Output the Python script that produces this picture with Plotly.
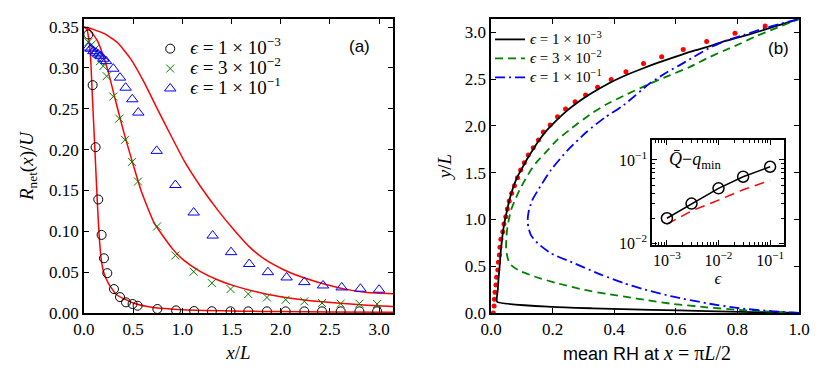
import plotly.graph_objects as go
import math

PI = math.pi

# ---------------- Panel (a) data ----------------
circ_x = [0.044, 0.088, 0.118, 0.145, 0.179, 0.203, 0.237, 0.305, 0.366, 0.427, 0.494, 0.545,
          0.746, 0.936, 1.12, 1.30, 1.49, 1.67, 1.86, 2.05, 2.24, 2.42, 2.61, 2.80, 2.98]
circ_y = [0.341, 0.279, 0.203, 0.139, 0.0956, 0.067, 0.0488, 0.0293, 0.0195, 0.0130, 0.011, 0.0089,
          0.0049, 0.0032, 0.0024, 0.0022, 0.002, 0.002, 0.002, 0.002, 0.002, 0.002, 0.002, 0.002, 0.002]

cross_x = [0.044, 0.078, 0.11, 0.14, 0.163, 0.196, 0.230, 0.298, 0.359, 0.417, 0.488, 0.549,
           0.743, 0.929, 1.115, 1.30, 1.49, 1.67, 1.86, 2.05, 2.24, 2.42, 2.61, 2.80, 2.98]
cross_y = [0.3316, 0.3288, 0.323, 0.317, 0.3084, 0.3023, 0.290, 0.265, 0.238, 0.212, 0.185, 0.161,
           0.106, 0.0704, 0.0505, 0.0366, 0.0293, 0.0232, 0.019, 0.0162, 0.0142, 0.0122, 0.0114, 0.0114, 0.011]

tri_x = [0.044, 0.068, 0.095, 0.122, 0.145, 0.169, 0.196, 0.224, 0.298, 0.366, 0.423, 0.491, 0.552,
         0.739, 0.929, 1.115, 1.308, 1.495, 1.68, 1.87, 2.06, 2.24, 2.43, 2.62, 2.81, 3.0]
tri_y = [0.325, 0.3236, 0.3206, 0.3187, 0.3166, 0.3145, 0.3113, 0.3084, 0.2991, 0.2882, 0.2759, 0.2617, 0.2454,
         0.1985, 0.1567, 0.123, 0.0948, 0.0745, 0.060, 0.050, 0.0435, 0.0378, 0.0337, 0.0313, 0.0297, 0.0285]

thA_x = [0, 0.015, 0.03, 0.047, 0.064, 0.088, 0.112, 0.135, 0.155, 0.175, 0.2, 0.247, 0.332, 0.5,
         0.705, 1.01, 1.21, 1.6, 2.0, 2.5, PI]
thA_y = [0.35, 0.3495, 0.347, 0.337, 0.319, 0.258, 0.197, 0.137, 0.093, 0.066, 0.050, 0.0366, 0.0223,
         0.0122, 0.0068, 0.004, 0.0032, 0.0022, 0.0017, 0.0013, 0.001]

thB_x = [0, 0.054, 0.138, 0.24, 0.325, 0.41, 0.494, 0.58, 0.715, 0.90, 1.01, 1.18, 1.35, 1.52,
         1.86, 2.2, 2.54, 2.88, PI]
thB_y = [0.35, 0.347, 0.333, 0.298, 0.258, 0.219, 0.184, 0.150, 0.110, 0.0785, 0.065, 0.051, 0.041,
         0.0335, 0.023, 0.0165, 0.0125, 0.0095, 0.0078]

thC_x = [0, 0.037, 0.1, 0.207, 0.342, 0.478, 0.613, 0.749, 0.885, 1.02, 1.19, 1.36, 1.53, 1.69,
         1.86, 2.03, 2.2, 2.37, 2.54, 2.71, 2.88, PI]
thC_y = [0.35, 0.3495, 0.347, 0.342, 0.331, 0.3105, 0.282, 0.249, 0.217, 0.186, 0.154, 0.126, 0.101,
         0.080, 0.064, 0.053, 0.0447, 0.038, 0.0325, 0.028, 0.025, 0.0235]

# ---------------- Panel (b) data ----------------
blk_x = [1.0, 0.85, 0.70, 0.52, 0.33, 0.2, 0.0195, 0.022, 0.024, 0.028, 0.032, 0.037, 0.043, 0.051,
         0.060, 0.068, 0.076, 0.088, 0.103, 0.118, 0.135, 0.155, 0.178, 0.21, 0.246, 0.29, 0.322,
         0.38, 0.43, 0.49, 0.538, 0.60, 0.646, 0.70, 0.754, 0.81, 0.862, 0.93, 1.0]
blk_y = [0.0, 0.01, 0.021, 0.033, 0.05, 0.065, 0.12, 0.25, 0.353, 0.5, 0.673, 0.82, 0.958, 1.08,
         1.21, 1.30, 1.38, 1.47, 1.56, 1.65, 1.74, 1.84, 1.94, 2.05, 2.16, 2.27, 2.34, 2.45, 2.53,
         2.61, 2.67, 2.74, 2.79, 2.84, 2.90, 2.95, 3.00, 3.07, PI]

grn_x = [1.0, 0.917, 0.808, 0.70, 0.592, 0.50, 0.455, 0.379, 0.303, 0.216, 0.141, 0.087, 0.060,
         0.049, 0.050, 0.052, 0.058, 0.065, 0.077, 0.092, 0.110, 0.130, 0.150, 0.173, 0.215, 0.26,
         0.321, 0.375, 0.43, 0.516, 0.58, 0.646, 0.70, 0.754, 0.81, 0.862, 0.93, 1.0]
grn_y = [0.0, 0.014, 0.032, 0.061, 0.096, 0.14, 0.164, 0.203, 0.246, 0.317, 0.39, 0.46, 0.53,
         0.673, 0.80, 0.886, 1.0, 1.10, 1.20, 1.31, 1.42, 1.53, 1.62, 1.70, 1.85, 1.97, 2.12,
         2.23, 2.32, 2.45, 2.54, 2.63, 2.72, 2.80, 2.88, 2.96, 3.05, PI]

blu_x = [1.0, 0.917, 0.808, 0.70, 0.592, 0.50, 0.43, 0.357, 0.271, 0.195, 0.152, 0.13, 0.121, 0.119,
         0.122, 0.133, 0.152, 0.195, 0.249, 0.311, 0.37, 0.43, 0.516, 0.57, 0.624, 0.67, 0.72,
         0.77, 0.82, 0.884, 0.94, 1.0]
blu_y = [0.0, 0.018, 0.05, 0.104, 0.174, 0.25, 0.32, 0.41, 0.53, 0.637, 0.744, 0.83, 0.92, 0.994,
         1.08, 1.20, 1.31, 1.53, 1.74, 1.937, 2.09, 2.22, 2.454, 2.57, 2.67, 2.76, 2.85,
         2.92, 2.97, 3.04, 3.09, PI]

dot_x = [0.0075, 0.010, 0.011, 0.013, 0.016, 0.018, 0.022, 0.024, 0.027, 0.029, 0.032, 0.038, 0.042,
         0.048, 0.053, 0.059, 0.067, 0.076, 0.086, 0.096, 0.108, 0.121, 0.137, 0.154, 0.170, 0.192,
         0.216, 0.242, 0.273, 0.307, 0.346, 0.390, 0.438, 0.495, 0.554, 0.624, 0.700, 0.792, 0.890]
dot_y = [0.0, 0.075, 0.146, 0.221, 0.299, 0.381, 0.459, 0.541, 0.620, 0.702, 0.787, 0.869, 0.951,
         1.029, 1.111, 1.197, 1.279, 1.36, 1.446, 1.528, 1.606, 1.688, 1.766, 1.848, 1.934, 2.009,
         2.097, 2.18, 2.258, 2.329, 2.411, 2.496, 2.578, 2.667, 2.739, 2.817, 2.90, 2.988, 3.066]

# inset
eps_vals = [1e-3, 3e-3, 1e-2, 3e-2, 1e-1]
q_num = [0.020, 0.030, 0.0457, 0.063, 0.083]
q_theory = [0.017, 0.0245, 0.033, 0.044, 0.057]

leg_core = ["1 × 10<sup>−3</sup>", "3 × 10<sup>−2</sup>", "1 × 10<sup>−1</sup>"]


def leg_label(core, px):
    return f'<span style="font-size:{px}px"><i>ϵ</i> = {core}</span>'


SERIF = "Liberation Serif"
SANS = "Liberation Sans"
RED = "#ff0000"
GRN = "#008000"
BLU = "#0000ff"

fig = go.Figure()

# panel (a)
for tx, ty in [(thA_x, thA_y), (thB_x, thB_y), (thC_x, thC_y)]:
    fig.add_trace(go.Scatter(x=tx, y=ty, mode="lines", line=dict(color=RED, width=1.5, shape="spline", smoothing=0.5),
                             showlegend=False, xaxis="x", yaxis="y", hoverinfo="skip"))
fig.add_trace(go.Scatter(x=circ_x, y=circ_y, mode="markers", name=leg_label(leg_core[0], 19),
                         marker=dict(symbol="circle-open", size=9, color="black", line=dict(width=1, color="black")),
                         xaxis="x", yaxis="y", legend="legend"))
fig.add_trace(go.Scatter(x=cross_x, y=cross_y, mode="markers", name=leg_label(leg_core[1], 19),
                         marker=dict(symbol="x-thin-open", size=8, color=GRN, line=dict(width=1, color=GRN)),
                         xaxis="x", yaxis="y", legend="legend"))
fig.add_trace(go.Scatter(x=tri_x, y=tri_y, mode="markers", name=leg_label(leg_core[2], 19),
                         marker=dict(symbol="triangle-up-open", size=10, color=BLU, line=dict(width=1, color=BLU)),
                         xaxis="x", yaxis="y", legend="legend"))

# panel (b)
fig.add_trace(go.Scatter(x=dot_x, y=dot_y, mode="markers", marker=dict(color=RED, size=5),
                         showlegend=False, xaxis="x2", yaxis="y2"))
fig.add_trace(go.Scatter(x=blk_x, y=blk_y, mode="lines", name=leg_label(leg_core[0], 15),
                         line=dict(color="black", width=1.8, shape="spline", smoothing=0.4),
                         xaxis="x2", yaxis="y2", legend="legend2"))
fig.add_trace(go.Scatter(x=grn_x, y=grn_y, mode="lines", name=leg_label(leg_core[1], 15),
                         line=dict(color=GRN, width=1.8, dash="8px,5px", shape="spline", smoothing=0.6),
                         xaxis="x2", yaxis="y2", legend="legend2"))
fig.add_trace(go.Scatter(x=blu_x, y=blu_y, mode="lines", name=leg_label(leg_core[2], 15),
                         line=dict(color=BLU, width=1.8, dash="10px,4px,2px,4px", shape="spline", smoothing=0.6),
                         xaxis="x2", yaxis="y2", legend="legend2"))

# inset
fig.add_trace(go.Scatter(x=eps_vals, y=q_theory, mode="lines", line=dict(color=RED, width=1.5, dash="10px,6px"),
                         showlegend=False, xaxis="x3", yaxis="y3"))
fig.add_trace(go.Scatter(x=eps_vals, y=q_num, mode="lines+markers", line=dict(color="black", width=1.5),
                         marker=dict(symbol="circle-open", size=11, color="black", line=dict(width=1.5, color="black")),
                         showlegend=False, xaxis="x3", yaxis="y3"))

tick_font = dict(family=SERIF, size=17, color="black")
common = dict(showgrid=False, zeroline=False, showline=True, linecolor="black", linewidth=1.5,
              mirror="allticks", ticks="inside", ticklen=5, tickwidth=1, tickcolor="black",
              tickfont=tick_font, automargin=False)

ydom = [0.1828, 0.9504]

minor_x = [k * 10 ** e for e in (-4, -3, -2, -1) for k in range(2, 10)]
minor_y = [k * 10 ** e for e in (-3, -2, -1) for k in range(2, 10)]

fig.update_layout(
    width=830, height=383,
    margin=dict(l=0, r=0, t=0, b=0),
    paper_bgcolor="white", plot_bgcolor="rgba(0,0,0,0)",
    font=dict(family=SERIF, color="black"),
    xaxis=dict(domain=[0.1012, 0.4735], range=[0, PI], anchor="y",
               tickvals=[0, 0.5, 1.0, 1.5, 2.0, 2.5, 3.0],
               ticktext=["0.0", "0.5", "1.0", "1.5", "2.0", "2.5", "3.0"],
               title=dict(text="<i>x</i>/<i>L</i>", font=dict(family=SERIF, size=19), standoff=8), **common),
    yaxis=dict(domain=ydom, range=[0, 0.36], anchor="x",
               tickvals=[0, 0.05, 0.10, 0.15, 0.20, 0.25, 0.30, 0.35],
               ticktext=["0.00", "0.05", "0.10", "0.15", "0.20", "0.25", "0.30", "0.35"],
               title=dict(text="<i>R</i><sub>net</sub>(<i>x</i>)/<i>U</i>", font=dict(family=SERIF, size=19), standoff=10),
               **common),
    xaxis2=dict(domain=[0.5916, 0.9627], range=[0, 1], anchor="y2",
                tickvals=[0, 0.2, 0.4, 0.6, 0.8, 1.0],
                ticktext=["0.0", "0.2", "0.4", "0.6", "0.8", "1.0"], **common),
    yaxis2=dict(domain=ydom, range=[0, PI], anchor="x2",
                tickvals=[0, 0.5, 1.0, 1.5, 2.0, 2.5, 3.0],
                ticktext=["0.0", "0.5", "1.0", "1.5", "2.0", "2.5", "3.0"],
                title=dict(text="<i>y</i>/<i>L</i>", font=dict(family=SERIF, size=19), standoff=8), **common),
    xaxis3=dict(domain=[0.7855, 0.9446], type="log", range=[-3.29, -0.73], anchor="y3",
                tickvals=[1e-3, 1e-2, 1e-1],
                ticktext=["10<sup>−3</sup>", "10<sup>−2</sup>", "10<sup>−1</sup>"],
                title=dict(text="<i>ϵ</i>", font=dict(family=SERIF, size=17), standoff=2),
                minor=dict(tickvals=minor_x, ticks="inside", ticklen=3, tickcolor="black"),
                showgrid=False, zeroline=False, showline=True, linecolor="black", linewidth=1.5,
                mirror="allticks", ticks="inside", ticklen=5, tickcolor="black",
                tickfont=dict(family=SERIF, size=16, color="black"), automargin=False),
    yaxis3=dict(domain=[0.3603, 0.6345], type="log", range=[-2.02, -0.76], anchor="x3",
                tickvals=[1e-2, 1e-1],
                ticktext=["10<sup>−2</sup>", "10<sup>−1</sup>"],
                minor=dict(tickvals=minor_y, ticks="inside", ticklen=3, tickcolor="black"),
                showgrid=False, zeroline=False, showline=True, linecolor="black", linewidth=1.5,
                mirror="allticks", ticks="inside", ticklen=5, tickcolor="black",
                tickfont=dict(family=SERIF, size=16, color="black"), automargin=False),
    legend=dict(x=0.181, y=0.912, xanchor="left", yanchor="top", bgcolor="rgba(0,0,0,0)",
                font=dict(family=SERIF, size=13, color="black"), tracegroupgap=0),
    legend2=dict(x=0.5904, y=0.935, xanchor="left", yanchor="top", bgcolor="rgba(0,0,0,0)",
                 font=dict(family=SERIF, size=12, color="black"), tracegroupgap=0),
    annotations=[
        dict(text="(a)", x=0.4337, y=0.878, xref="paper", yref="paper", showarrow=False,
             xanchor="center", yanchor="middle", font=dict(family=SANS, size=17, color="black")),
        dict(text="(b)", x=0.9377, y=0.874, xref="paper", yref="paper", showarrow=False,
             xanchor="center", yanchor="middle", font=dict(family=SANS, size=17, color="black")),
        dict(text="<i>Q̄</i>−<i>q</i><sub>min</sub>", x=0.8036, y=0.582, xref="paper", yref="paper",
             xanchor="left", yanchor="middle", showarrow=False, font=dict(family=SERIF, size=18, color="black")),
        dict(text='mean RH at <span style="font-family:Liberation Serif;font-size:20px"><i>x</i> = π<i>L</i>/2</span>',
             x=0.779, y=0.078, xref="paper", yref="paper", xanchor="center", yanchor="middle",
             showarrow=False, font=dict(family=SANS, size=18, color="black")),
    ],
)

fig.write_html("out.html", config={"displayModeBar": False},
               post_script="document.body.style.margin='0';document.body.style.overflow='hidden';")
